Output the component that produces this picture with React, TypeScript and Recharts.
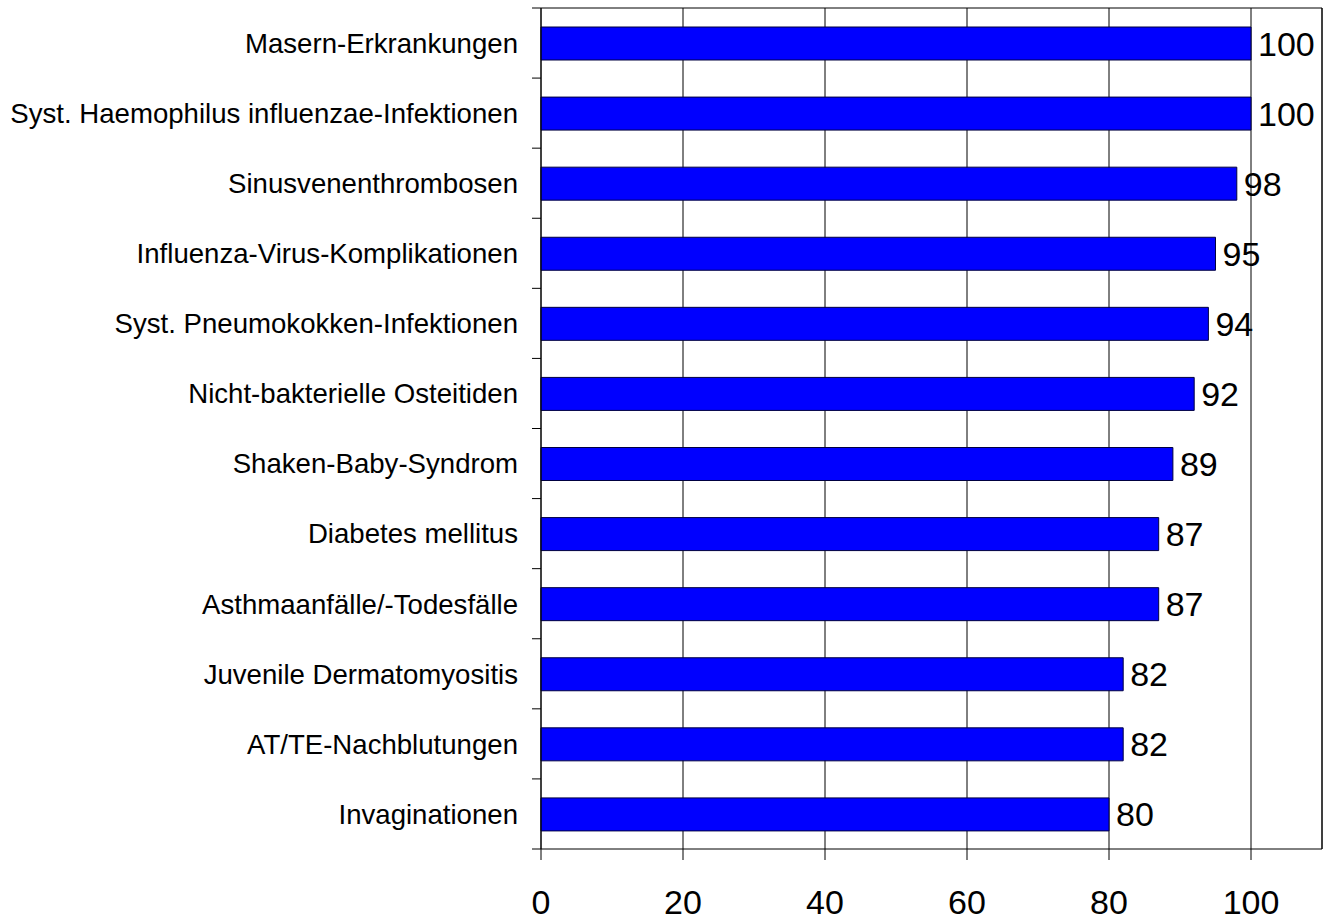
import { Bar, BarChart, CartesianGrid, LabelList, ReferenceLine, XAxis, YAxis } from 'recharts';

const categories = [
    'Masern-Erkrankungen',
    'Syst. Haemophilus influenzae-Infektionen',
    'Sinusvenenthrombosen',
    'Influenza-Virus-Komplikationen',
    'Syst.  Pneumokokken-Infektionen',
    'Nicht-bakterielle Osteitiden',
    'Shaken-Baby-Syndrom',
    'Diabetes mellitus',
    'Asthmaanfälle/-Todesfälle',
    'Juvenile Dermatomyositis',
    'AT/TE-Nachblutungen',
    'Invaginationen',
];

const values = [100, 100, 98, 95, 94, 92, 89, 87, 87, 82, 82, 80];

const xTicks = [0, 20, 40, 60, 80, 100];

// band edges for the small tick marks on the category axis
const bandEdges = categories.map((_, i) => i).concat(categories.length);

const data = categories.map((name, i) => ({ name, value: values[i], edge: i }));

const FONT = '"Liberation Sans", Arial, Helvetica, sans-serif';

export default function App() {
    return (
        <div style={{ position: 'absolute', left: 0, top: 0, background: '#fff' }}>
            <BarChart
                width={1334}
                height={920}
                data={data}
                layout="vertical"
                margin={{ top: 7, right: 12, bottom: 0, left: 0 }}
                barCategoryGap={0}
            >
                <CartesianGrid horizontal={false} stroke="#000" strokeWidth={1} />
                <XAxis
                    type="number"
                    domain={[0, 110]}
                    ticks={xTicks}
                    height={71}
                    tickSize={11}
                    tickMargin={30}
                    stroke="#000"
                    tick={{ fill: '#000', fontSize: 34, fontFamily: FONT }}
                />
                {/* frame line across the top of the plot */}
                <XAxis
                    xAxisId="top"
                    orientation="top"
                    type="number"
                    domain={[0, 110]}
                    height={1}
                    tick={false}
                    tickLine={false}
                    stroke="#000"
                />
                {/* inner axis: line plus tick marks between categories */}
                <YAxis
                    yAxisId={0}
                    type="number"
                    dataKey="edge"
                    domain={[0, categories.length]}
                    allowDataOverflow
                    ticks={bandEdges}
                    width={1}
                    tickSize={9}
                    tickLine={{ stroke: '#000' }}
                    tickFormatter={() => ''}
                    stroke="#000"
                />
                <YAxis
                    yAxisId="names"
                    type="category"
                    dataKey="name"
                    width={540}
                    axisLine={false}
                    tickLine={false}
                    tickSize={0}
                    tickMargin={22}
                    interval={0}
                    tick={{ fill: '#000', fontSize: 27.6, fontFamily: FONT }}
                />
                <ReferenceLine x={110} stroke="#000" />
                <Bar
                    yAxisId="names"
                    dataKey="value"
                    fill="#0000ff"
                    stroke="#000040"
                    strokeWidth={1}
                    barSize={33}
                    isAnimationActive={false}
                >
                    <LabelList
                        dataKey="value"
                        position="right"
                        offset={7}
                        fill="#000"
                        fontSize={34}
                        fontFamily={FONT}
                    />
                </Bar>
            </BarChart>
        </div>
    );
}
